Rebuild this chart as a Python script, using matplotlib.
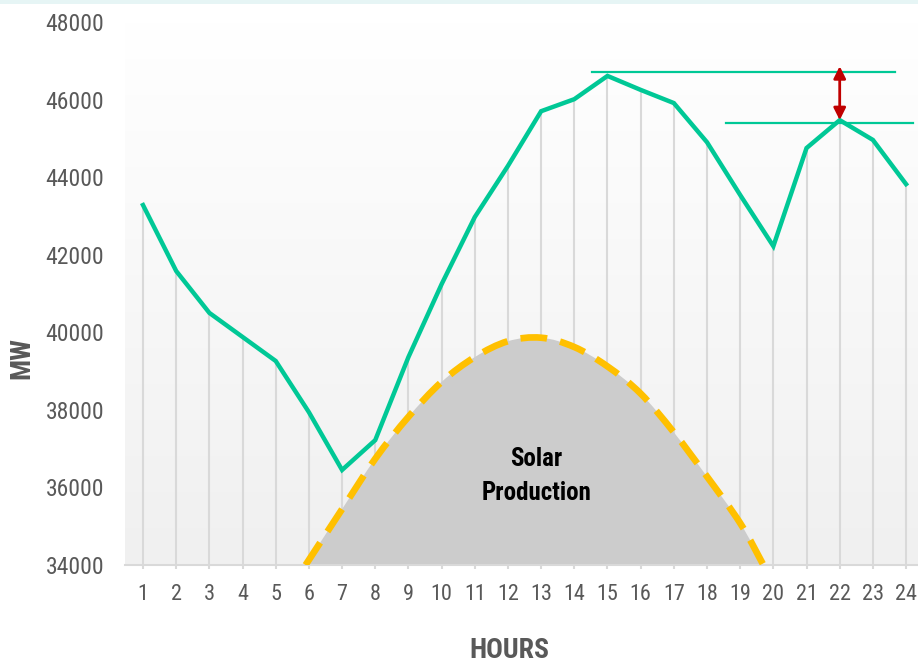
import numpy as np
import matplotlib
matplotlib.use("Agg")
import matplotlib.pyplot as plt
from matplotlib import font_manager
from matplotlib.patches import Rectangle, PathPatch
from matplotlib.path import Path

# hourly system load (MW)
hours = list(range(1, 25))
load_mw = [43280, 41580, 40500, 39880, 39260, 37940, 36450, 37220,
           39360, 41240, 42970, 44290, 45700, 46010, 46610, 46250,
           45910, 44900, 43540, 42220, 44750, 45470, 44960, 43820]

# solar production profile, drawn on top of the load baseline
solar_hours = [5.9, 7, 8, 9, 10, 11, 12, 13, 14, 15, 16, 17, 18, 19, 19.7]
solar_mw = [34000, 35440, 36740, 37820, 38720, 39360, 39770, 39860,
            39620, 39120, 38420, 37420, 36280, 35080, 34000]

# reference levels: evening peak vs. afternoon peak
ramp_levels = [46700, 45400]
ramp_spans = [(14.54, 23.67), (18.58, 24.21)]
arrow_hour = 22
arrow_from, arrow_to = 46860, 45470

y_ticks = [34000, 36000, 38000, 40000, 42000, 44000, 46000, 48000]


def pick_narrow_font():
    # prefer a condensed face if one is installed
    names = {f.name for f in font_manager.fontManager.ttflist}
    for n in ["Roboto Condensed", "Liberation Sans Narrow", "Open Sans Condensed",
              "Noto Sans Condensed", "DejaVu Sans Condensed"]:
        if n in names:
            return n, "normal"
    for f in font_manager.fontManager.ttflist:
        if f.name == "DejaVu Sans" and str(f.stretch) in ("condensed", "semi-condensed"):
            return "DejaVu Sans", "condensed"
    for n in ["Roboto", "Lato"]:
        if n in names:
            return n, "normal"
    return "DejaVu Sans", "normal"


FONT_NAME, STRETCH = pick_narrow_font()
FONT = [FONT_NAME, "DejaVu Sans"]
GREEN = "#00c896"
GOLD = "#ffc000"
TXT = "#595959"


def smooth_path(xs, ys):
    # Catmull-Rom through the points, expressed as cubic Bezier segments
    pts = np.column_stack([xs, ys]).astype(float)
    verts = [pts[0]]
    codes = [Path.MOVETO]
    n = len(pts)
    for i in range(n - 1):
        p0 = pts[max(i - 1, 0)]
        p1, p2 = pts[i], pts[i + 1]
        p3 = pts[min(i + 2, n - 1)]
        verts += [p1 + (p2 - p0) / 6, p2 - (p3 - p1) / 6, p2]
        codes += [Path.CURVE4] * 3
    return verts, codes


W, H = 918, 667
fig = plt.figure(figsize=(W / 100, H / 100), dpi=100)
fig.patch.set_facecolor("white")

# faint tinted strip along the top edge
fig.add_artist(Rectangle((0, 1 - 4 / H), 1, 4 / H, transform=fig.transFigure,
                         facecolor="#e6f5f5", edgecolor="none", zorder=0))

left, right, top, bottom = 125, 918, 22, 565
ax = fig.add_axes([left / W, 1 - bottom / H, (right - left) / W, (bottom - top) / H])
ax.set_xlim(0.457, 24.36)
ax.set_ylim(34000, 48000)
ax.set_facecolor("none")

# vertical background gradient, white to light grey
t = np.linspace(1.0, 0.0, 256).reshape(-1, 1)
bg = np.empty((256, 1, 3))
bot_c = np.array([0xf0, 0xf0, 0xf0]) / 255
bg[:, 0, :] = t * 1.0 + (1 - t) * bot_c
ax.imshow(bg, extent=[0.457, 24.36, 34000, 48000], aspect="auto", zorder=0,
          interpolation="bilinear")

# drop lines from the axis up to the load curve
ax.vlines(hours, 34000, load_mw, color="#d9d9d9", lw=1.5, zorder=1)

verts, codes = smooth_path(solar_hours, solar_mw)
fill_verts = verts + [(solar_hours[-1], 34000), (solar_hours[0], 34000), verts[0]]
fill_codes = codes + [Path.LINETO, Path.LINETO, Path.CLOSEPOLY]
ax.add_patch(PathPatch(Path(fill_verts, fill_codes), facecolor="#cccccc",
                       edgecolor="none", zorder=2))
ax.add_patch(PathPatch(Path(verts, codes), facecolor="none", edgecolor=GOLD,
                       lw=4.8, linestyle=(0, (4, 2)), capstyle="butt", zorder=3))

ax.plot(hours, load_mw, color=GREEN, lw=3.2, solid_joinstyle="miter", zorder=4)

for lvl, (x0, x1) in zip(ramp_levels, ramp_spans):
    ax.plot([x0, x1], [lvl, lvl], color=GREEN, lw=1.6, zorder=4, clip_on=False)

ax.annotate("", xy=(arrow_hour, arrow_to), xytext=(arrow_hour, arrow_from),
            arrowprops=dict(arrowstyle="<|-|>", color="#c00000", lw=2,
                            mutation_scale=18, shrinkA=0, shrinkB=0),
            zorder=5)

ax.text(12.85, 36300, "Solar\nProduction", ha="center", va="center",
        fontsize=18, fontweight="bold", color="black", family=FONT,
        fontstretch=STRETCH, linespacing=1.5, zorder=5)

for s in ["top", "right", "left"]:
    ax.spines[s].set_visible(False)
ax.spines["bottom"].set_color("#d9d9d9")
ax.spines["bottom"].set_linewidth(1.5)

ax.set_xticks(hours)
ax.set_xticklabels([str(h) for h in hours])
ax.set_yticks(y_ticks)
ax.set_yticklabels([str(v) for v in y_ticks])
ax.tick_params(axis="x", length=3, color="#d9d9d9", width=1.5, pad=11,
               labelsize=16, labelcolor=TXT)
ax.tick_params(axis="y", length=0, pad=15, labelsize=17, labelcolor=TXT)
for lab in ax.get_xticklabels() + ax.get_yticklabels():
    lab.set_family(FONT)
    lab.set_fontstretch(STRETCH)

fig.text(22 / W, 1 - 358 / H, "MW", rotation=90, ha="center", va="center",
         fontsize=20, fontweight="bold", color=TXT, family=FONT, fontstretch=STRETCH)
fig.text(509 / W, 1 - 650 / H, "HOURS", ha="center", va="center",
         fontsize=20, fontweight="bold", color=TXT, family=FONT, fontstretch=STRETCH)

fig.savefig("out.png", dpi=100, facecolor="white")
